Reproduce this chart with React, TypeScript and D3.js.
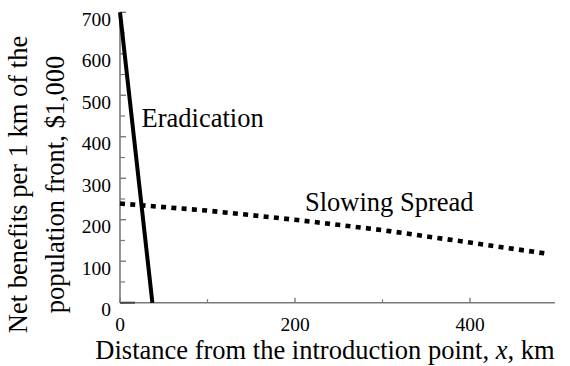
import React from "react";
import * as d3 from "d3";

const W = 570;
const H = 366;

const eradX = [0, 37];
const eradY = [700, 0];

const slowX = [0, 100, 200, 300, 400, 485];
const slowY = [239, 222, 200, 175, 145, 119];

const yMajor = [0, 100, 200, 300, 400, 500, 600, 700];
const yMinor = [50, 150, 250, 350, 450, 550, 650];
const xMajor = [0, 200, 400];
const xMinor = [100, 300];
const xAxisEnd = 497;

const FONT = "'Liberation Serif', 'Times New Roman', serif";

export default function App() {
  const x = d3.scaleLinear().domain([0, 500]).range([120, 557.5]);
  const y = d3.scaleLinear().domain([0, 700]).range([302.7, 12.3]);
  const line = d3
    .line<[number, number]>()
    .x((d) => x(d[0]))
    .y((d) => y(d[1]));
  const erad = eradX.map((v, i) => [v, eradY[i]] as [number, number]);
  const slow = slowX.map((v, i) => [v, slowY[i]] as [number, number]);
  const axisColor = "#7a7a7a";
  const ts = { fontFamily: FONT };

  return (
    <svg
      width={W}
      height={H}
      style={{ position: "absolute", left: 0, top: 0, background: "#fff" }}
      fontFamily={FONT}
    >
      <line x1={x(0)} x2={x(0)} y1={y(0)} y2={y(700)} stroke={axisColor} strokeWidth={1.6} />
      <line x1={x(0)} x2={x(xAxisEnd)} y1={y(0)} y2={y(0)} stroke={axisColor} strokeWidth={1.6} />
      {yMajor.map((v) => (
        <line key={"ym" + v} x1={x(0)} x2={x(0) + 6} y1={y(v)} y2={y(v)} stroke={axisColor} strokeWidth={1.4} />
      ))}
      {yMinor.map((v) => (
        <line key={"yn" + v} x1={x(0)} x2={x(0) + 5} y1={y(v)} y2={y(v)} stroke={axisColor} strokeWidth={1.2} />
      ))}
      <line x1={x(0)} x2={x(0) + 15} y1={y(0)} y2={y(0)} stroke="#444" strokeWidth={2} />
      {xMajor.map((v) => (
        <line key={"xm" + v} x1={x(v)} x2={x(v)} y1={y(0)} y2={y(0) - 5} stroke={axisColor} strokeWidth={1.4} />
      ))}
      {xMinor.map((v) => (
        <line key={"xn" + v} x1={x(v)} x2={x(v)} y1={y(0)} y2={y(0) - 3.5} stroke={axisColor} strokeWidth={1.2} />
      ))}
      {yMajor.map((v) => (
        <text key={"yl" + v} x={111} y={y(v) + 13.5} fontSize={19.5} textAnchor="end" fill="#000" style={ts}>
          {v}
        </text>
      ))}
      {xMajor.map((v) => (
        <text key={"xl" + v} x={x(v)} y={330.5} fontSize={19.5} textAnchor="middle" fill="#000" style={ts}>
          {v}
        </text>
      ))}
      <path d={line(slow) || ""} fill="none" stroke="#000" strokeWidth={4.6} strokeDasharray="5 5.3" />
      <path d={line(erad) || ""} fill="none" stroke="#000" strokeWidth={4} />
      <text x={141.5} y={126.7} fontSize={26.5} fill="#000" style={ts}>Eradication</text>
      <text x={305} y={210.7} fontSize={26.5} fill="#000" style={ts}>Slowing Spread</text>
      <text x={325} y={358.5} fontSize={26.5} textAnchor="middle" fill="#000" style={ts}>
        Distance from the introduction point, <tspan fontStyle="italic">x</tspan>, km
      </text>
      <g transform="translate(27,184.5) rotate(-90)">
        <text x={0} y={0} fontSize={26.5} textAnchor="middle" fill="#000" style={ts}>
          Net benefits per 1 km of the
        </text>
      </g>
      <g transform="translate(64,184.5) rotate(-90)">
        <text x={0} y={0} fontSize={26.5} textAnchor="middle" fill="#000" style={ts}>
          population front, $1,000
        </text>
      </g>
    </svg>
  );
}
